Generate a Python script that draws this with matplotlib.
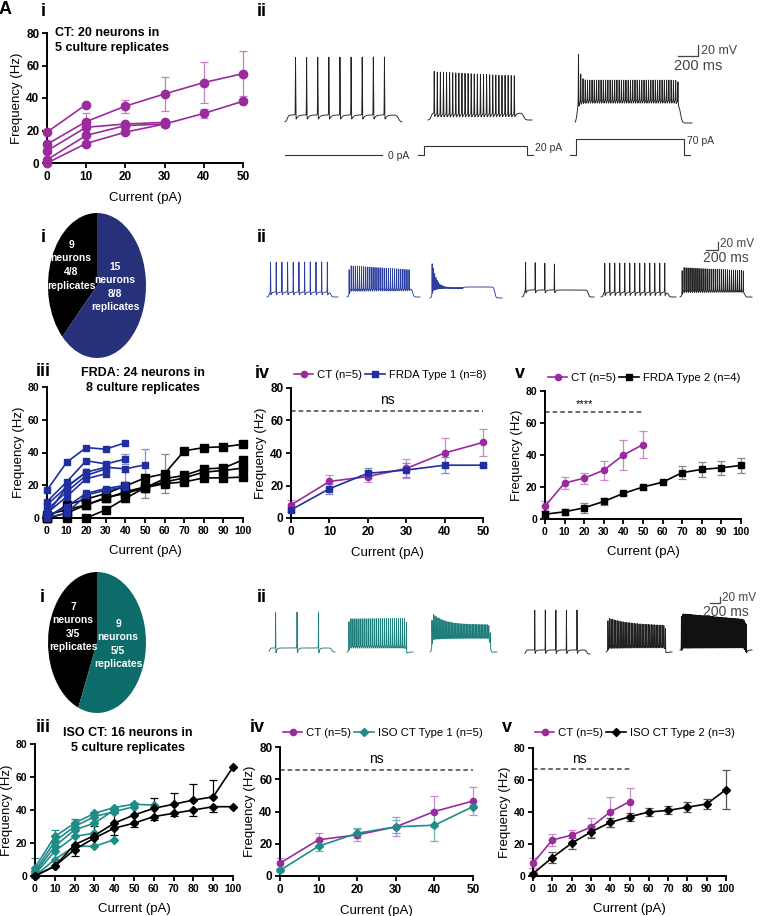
import numpy as np
import matplotlib.pyplot as plt

plt.rcParams['font.family'] = ['Liberation Sans', 'DejaVu Sans']

# ---------------- data ----------------
currents_50 = [0, 10, 20, 30, 40, 50]
currents_100 = [0, 10, 20, 30, 40, 50, 60, 70, 80, 90, 100]

# A i: CT replicates
ct_lines = [[19, 36],
            [11.5, 25.5, 35, 42.5, 49.5, 55],
            [7.5, 22, 24, 25],
            [2, 17, 23, 24],
            [0, 12, 19, 24, 30.5, 38]]
ct_lines_err = [[0, 0],
                [0, 5, 4, 10.5, 12.5, 14],
                [0, 0, 0, 0],
                [0, 0, 0, 0],
                [0, 0, 0, 0, 2.5, 0]]

# B i / C i pies
frda_pie = [9, 15]
frda_pie_text = ['9\nneurons\n4/8\nreplicates', '15\nneurons\n8/8\nreplicates']
iso_pie = [7, 9]
iso_pie_text = ['7\nneurons\n3/5\nreplicates', '9\nneurons\n5/5\nreplicates']

# B iii: FRDA replicates
frda_t1_lines = [[17, 34, 43, 42, 46],
                 [10, 22, 35, 33, 36],
                 [8, 19, 28, 31, 30, 32.5],
                 [5, 16, 26, 30],
                 [3, 13, 24, 27],
                 [1, 7, 15, 18, 20],
                 [0, 3, 14, 17, 19],
                 [2, 19, 28]]
frda_t1_err = [[0] * 5, [0, 0, 0, 0, 3], [0, 0, 0, 0, 0, 9.5], [0] * 4, [0] * 4,
               [0] * 5, [0, 0, 0, 0, 9], [0] * 3]
frda_t2_lines = [[0, 8, 11.5, 15, 19.5, 24.5, 27, 41, 43, 43.5, 45],
                 [0, 3, 8, 12.5, 15, 18.5, 24, 26, 30, 30.5, 35.5],
                 [2, 5, 8, 12, 16, 19, 22, 24.5, 28, 29, 30.5],
                 [0, 0, 0, 5, 12, 18.5, 21, 22, 24.5, 24.5, 25]]
frda_t2_err = [[0, 0, 0, 0, 0, 0, 12, 0, 0, 0, 0],
               [0, 0, 0, 0, 0, 6.5, 0, 0, 0, 0, 0],
               [0] * 11,
               [0, 0, 0, 2, 0, 0, 0, 0, 0, 0, 0]]

# group means (iv, v)
ct_mean = [8, 22.5, 25.5, 30.5, 40, 46.5]
ct_sem = [3, 4, 3.5, 6, 9.5, 8.5]
frda1_mean = [5, 18, 27.5, 29.5, 32.5, 32.5]
frda1_sem = [1.5, 3, 3, 4.5, 5, 1]
frda2_mean = [3, 4.5, 7, 11, 16, 20, 23, 29, 31, 32, 33.5]
frda2_sem = [2, 2, 3, 2, 1, 1, 1, 4, 4.5, 4.5, 4.5]

# C iii: ISO CT replicates
iso_t1_lines = [[5, 24, 32, 38, 41.5, 43.5, 43],
                [3, 21, 30, 36, 39, 42],
                [2, 18, 28, 32, 40],
                [1, 15, 24, 26],
                [0, 10, 18, 18, 22]]
iso_t1_err = [[6, 4, 2.5, 0, 0, 0, 0], [0, 0, 0, 3, 0, 0], [0] * 5, [0] * 4, [0] * 5]
iso_t2_lines = [[0, 6, 19, 24.5, 32, 37, 41, 43.5, 46, 48, 66],
                [0, 6, 16, 23, 29, 32, 36, 38, 40, 42, 42]]
iso_t2_err_up = [0, 0, 0, 6, 6, 7, 6.5, 7, 10, 10, 0]
iso_t2_err_down = [0, 0, 4, 0, 4, 2, 2, 1.5, 3.5, 3.5, 0]

iso1_mean = [3.5, 18.5, 26.5, 30.5, 31.5, 43]
iso1_sem = [1, 3, 3, 4, 9.5, 1]
iso2_mean = [1.5, 11.5, 20.5, 27.5, 33.5, 37, 40, 41, 43, 45, 54]
iso2_sem = [1, 3.5, 3.5, 3.5, 3, 2.5, 2.5, 2.5, 3, 3, 12]

stim_labels = ['0 pA', '20 pA', '70 pA']

PURPLE = '#9a2a9e'
BLUE = '#1f2fa0'
PIE_BLUE = '#27317a'
TEAL = '#1f8c88'
PIE_TEAL = '#0d6b6a'

W, H = 760, 916
fig = plt.figure(figsize=(W / 100, H / 100), dpi=100)


def px_axes(l, t, r, b):
    return fig.add_axes([l / W, 1 - b / H, (r - l) / W, (b - t) / H])


def gp_axes(l, t, r, b, xmax):
    ax = px_axes(l, t, r, b)
    ax.set_xlim(0, xmax)
    ax.set_ylim(0, 80)
    ax.set_xticks(np.arange(0, xmax + 1, 10))
    ax.set_yticks(range(0, 81, 20))
    for s in ['top', 'right']:
        ax.spines[s].set_visible(False)
    for s in ['left', 'bottom']:
        ax.spines[s].set_linewidth(1.4)
    ax.tick_params(width=1.3, length=3.5, labelsize=8.5 if xmax == 50 else 7.5, pad=2)
    for lab in ax.get_xticklabels() + ax.get_yticklabels():
        lab.set_fontweight('bold')
    ax.set_xlabel('Current (pA)', fontsize=9.5, labelpad=7)
    ax.set_ylabel('Frequency (Hz)', fontsize=9.5, labelpad=2)
    ax.patch.set_alpha(0)
    return ax


def plot_line(ax, y, color, marker, ms, err=None, ecolor=None, label=None):
    x = np.arange(len(y)) * 10
    y = np.asarray(y, float)
    ax.plot(x, y, color=color, marker=marker, ms=ms, lw=1.2, clip_on=False,
            zorder=3, label=label)
    if err is None:
        return
    if isinstance(err, tuple):
        lo, hi = np.asarray(err[0], float), np.asarray(err[1], float)
    else:
        lo = hi = np.asarray(err, float)
    m = (lo > 0) | (hi > 0)
    if m.any():
        ax.errorbar(x[m], y[m], yerr=[lo[m], hi[m]], fmt='none',
                    ecolor=ecolor or color, elinewidth=0.9, capsize=3,
                    capthick=0.9, zorder=2, clip_on=False)


def sig_line(ax, y, xend, text, xtext, size=10):
    ax.plot([0, xend], [y, y], ls=(0, (3, 2)), color='#444444', lw=1.1)
    ax.text(xtext, y + 2, text, ha='center', va='bottom', fontsize=size)


def legend(ax, x, y):
    ax.legend(loc='center left', bbox_to_anchor=(x / W, 1 - y / H),
              bbox_transform=fig.transFigure, ncol=2, frameon=False,
              fontsize=8.2, handlelength=1.7, handletextpad=0.35,
              columnspacing=0.25, borderaxespad=0, borderpad=0)


# ---------------- A i ----------------
ax = gp_axes(47, 33, 243, 163, 50)
for ys, es in zip(ct_lines, ct_lines_err):
    plot_line(ax, ys, PURPLE, 'o', 6, es, '#c27ec4')
ax.text(0.04, 0.94, 'CT: 20 neurons in\n5 culture replicates', transform=ax.transAxes,
        ha='left', va='center', fontsize=9, fontweight='bold', linespacing=1.3)

# ---------------- B iii ----------------
ax = gp_axes(47, 387, 243, 518, 100)
for ys, es in zip(frda_t2_lines, frda_t2_err):
    plot_line(ax, ys, 'black', 's', 5.5, es, '#888888')
for ys, es in zip(frda_t1_lines, frda_t1_err):
    plot_line(ax, ys, BLUE, 's', 5, es, '#8890c8')
ax.text(0.49, 1.05, 'FRDA: 24 neurons in\n8 culture replicates', transform=ax.transAxes,
        ha='center', va='center', fontsize=9, fontweight='bold', linespacing=1.3)

# ---------------- B iv ----------------
ax = gp_axes(291, 388, 483, 518, 50)
plot_line(ax, ct_mean, PURPLE, 'o', 4.5, ct_sem, '#cc88cc', 'CT (n=5)')
plot_line(ax, frda1_mean, BLUE, 's', 4.5, frda1_sem, '#7f88d0', 'FRDA Type 1 (n=8)')
sig_line(ax, 66, 50, 'ns', 25)
legend(ax, 294, 375)

# ---------------- B v ----------------
ax = gp_axes(545, 391, 741, 519, 100)
plot_line(ax, ct_mean, PURPLE, 'o', 4.5, ct_sem, '#cc88cc', 'CT (n=5)')
plot_line(ax, frda2_mean, 'black', 's', 4.5, frda2_sem, '#888888', 'FRDA Type 2 (n=4)')
sig_line(ax, 67, 50, '****', 20, 8)
legend(ax, 548, 378)

# ---------------- C iii ----------------
ax = gp_axes(35, 744, 233, 876, 100)
for ys, es in zip(iso_t1_lines, iso_t1_err):
    plot_line(ax, ys, TEAL, 'D', 4, es, TEAL)
plot_line(ax, iso_t2_lines[0], 'black', 'D', 4.5, ([0] * 11, iso_t2_err_up), 'black')
plot_line(ax, iso_t2_lines[1], 'black', 'D', 4.5, (iso_t2_err_down, [0] * 11), 'black')
ax.text(0.47, 1.027, 'ISO CT: 16 neurons in\n5 culture replicates', transform=ax.transAxes,
        ha='center', va='center', fontsize=9, fontweight='bold', linespacing=1.3)

# ---------------- C iv ----------------
ax = gp_axes(280, 747, 473, 876, 50)
plot_line(ax, ct_mean, PURPLE, 'o', 4.5, ct_sem, '#cc88cc', 'CT (n=5)')
plot_line(ax, iso1_mean, TEAL, 'D', 4, iso1_sem, '#6fb3b0', 'ISO CT Type 1 (n=5)')
sig_line(ax, 66, 50, 'ns', 25)
legend(ax, 283, 733)

# ---------------- C v ----------------
ax = gp_axes(533, 748, 726, 876, 100)
plot_line(ax, ct_mean, PURPLE, 'o', 4.5, ct_sem, '#cc88cc', 'CT (n=5)')
plot_line(ax, iso2_mean, 'black', 'D', 4, iso2_sem, '#555555', 'ISO CT Type 2 (n=3)')
sig_line(ax, 67, 50, 'ns', 24)
legend(ax, 535, 733)

# ---------------- pies ----------------
for (l, t, r, b), vals, cols, texts, pos in [
        ((48, 213, 146, 358), frda_pie, ['black', PIE_BLUE], frda_pie_text,
         [(-0.53, 0.28), (0.37, -0.02)]),
        ((48, 572, 146, 713), iso_pie, ['black', PIE_TEAL], iso_pie_text,
         [(-0.49, 0.22), (0.43, -0.02)])]:
    pax = px_axes(l, t, r, b)
    pax.pie(vals, colors=cols, startangle=90, counterclock=True)
    pax.set_aspect('auto')
    pax.set_xlim(-1, 1)
    pax.set_ylim(-1, 1)
    for txt, (tx, ty) in zip(texts, pos):
        pax.text(tx, ty, txt, ha='center', va='center', color='white',
                 fontsize=7.4, fontweight='bold', linespacing=1.45)

# ---------------- overlay: traces and labels ----------------
ov = fig.add_axes([0, 0, 1, 1])
ov.set_zorder(10)
ov.patch.set_alpha(0)
ov.set_xlim(0, W)
ov.set_ylim(H, 0)
ov.axis('off')


def spike_trace(x0, x1, rest, dep, peak0, peak1, n, s0, s1, color,
                ahp=4, amp_tau=None, on=0.03, off=0.9):
    t = np.linspace(0, 1, 5000)
    step = 1 / (1 + np.exp(-(t - on) / 0.006)) / (1 + np.exp((t - off) / 0.008))
    v = (rest - dep) * step
    idx = np.arange(n)
    if amp_tau:
        heights = peak1 + (peak0 - peak1) * np.exp(-idx / amp_tau)
    else:
        heights = np.linspace(peak0, peak1, n)
    amps = dep - heights
    amax = amps.max()
    for k, a in zip(np.linspace(s0, s1, n), amps):
        v = v + a * np.exp(-((t - k) / 0.0022) ** 2)
        late = t > k
        v[late] -= ahp * (0.3 + 0.7 * a / amax) * np.exp(-(t[late] - k) / 0.015)
    ov.plot(x0 + (x1 - x0) * t, rest - v, color=color, lw=0.65)


# A ii
spike_trace(285, 402, 122, 115, 57, 57, 9, 0.09, 0.85, '#222222', ahp=6, on=0.02, off=0.97)
spike_trace(428, 532, 120, 113, 71, 75, 27, 0.06, 0.83, '#222222', ahp=5, on=0.03, off=0.92)
spike_trace(575, 692, 123, 98, 50, 78, 45, 0.03, 0.88, '#222222', ahp=9, amp_tau=0.7, on=0.02, off=0.9)

stim_x = [(285, 382), (418, 533), (570, 690)]
stim_h = [0, 9, 16]
label_xy = [(388, 156), (535, 148), (687, 141)]
for (sx0, sx1), h, lab, (lx, ly) in zip(stim_x, stim_h, stim_labels, label_xy):
    if h == 0:
        ov.plot([sx0, sx1], [155, 155], color='#333333', lw=0.8)
    else:
        ov.plot([sx0, sx0 + 6, sx0 + 6, sx1 - 6, sx1 - 6, sx1],
                [155, 155, 155 - h, 155 - h, 155, 155], color='#333333', lw=0.8)
    ov.text(lx, ly, lab, fontsize=7.5, va='center', ha='left', color='#333333')

# B ii
spike_trace(267, 338, 297, 292, 262, 262, 11, 0.05, 0.85, '#2c3da0', ahp=4)
spike_trace(347, 420, 297, 288, 265, 269, 30, 0.03, 0.85, '#2c3da0', ahp=4)
spike_trace(430, 502, 298, 287, 258, 287, 25, 0.03, 0.45, '#2c3da0', ahp=4, amp_tau=3)
spike_trace(522, 594, 297, 290, 262, 264, 4, 0.05, 0.45, '#222222', ahp=4, off=0.92)
spike_trace(601, 676, 297, 292, 263, 263, 13, 0.05, 0.85, '#222222', ahp=5)
spike_trace(680, 752, 297, 290, 267, 270, 32, 0.03, 0.88, '#222222', ahp=3)

# C ii
spike_trace(269, 335, 652, 648, 612, 612, 3, 0.1, 0.75, '#1f7d7a', ahp=7, on=0.01, off=0.95)
spike_trace(347, 413, 652, 645, 618, 618, 30, 0.03, 0.9, '#1f7d7a', ahp=4)
spike_trace(430, 497, 652, 636, 612, 624, 40, 0.03, 0.9, '#1f7d7a', ahp=4, amp_tau=8)
spike_trace(525, 590, 654, 650, 610, 610, 5, 0.15, 0.8, '#222222', ahp=5, on=0.01, off=0.95)
spike_trace(606, 672, 652, 645, 617, 625, 38, 0.03, 0.9, '#222222', ahp=4, amp_tau=15)
spike_trace(680, 752, 650, 645, 612, 618, 60, 0.02, 0.92, '#111111', ahp=3)

# scale bars
for hx0, hx1, hy, vtop, tx, ty, bx, by, fs in [(678, 698, 56, 45, 701, 51, 674, 66, 10.5),
                                                (706, 718, 250, 242, 720, 244, 703, 258, 10),
                                                (710, 720, 603, 597, 722, 598, 703, 612, 10)]:
    ov.plot([hx0, hx1, hx1], [hy, hy, vtop], color='#444444', lw=0.9)
    ov.text(tx, ty, '20 mV', fontsize=fs - 1.5, va='center', ha='left', color='#444444')
    ov.text(bx, by, '200 ms', fontsize=fs, va='center', ha='left', color='#444444')

# panel labels
for txt, x, y in [('A', 5, 9), ('i', 43, 11), ('ii', 262, 12),
                  ('i', 43, 237), ('ii', 262, 237),
                  ('iii', 43, 372), ('iv', 262, 373), ('v', 520, 373),
                  ('i', 42, 597), ('ii', 262, 597),
                  ('iii', 43, 727), ('iv', 257, 727), ('v', 507, 727)]:
    ov.text(x, y, txt, fontsize=13, fontweight='bold', ha='center', va='center')

fig.savefig('out.png', dpi=100)
